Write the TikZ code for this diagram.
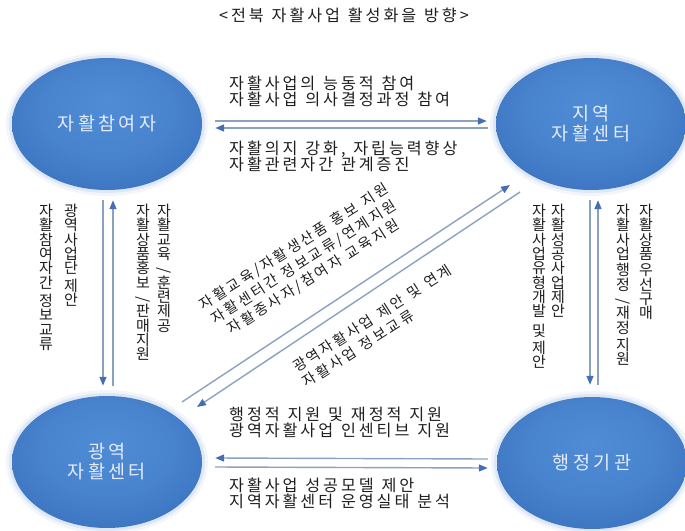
\documentclass[tikz,border=0pt]{standalone}
\usepackage{fontspec}
\setmainfont[LetterSpace=18,WordSpace=1.2]{Noto Sans CJK KR}
\usetikzlibrary{shapes.geometric,arrows.meta,calc}
\definecolor{bIn}{RGB}{80,140,214}
\definecolor{bOut}{RGB}{40,92,170}
\definecolor{lineC}{RGB}{140,160,194}
\definecolor{headC}{RGB}{70,110,180}
\definecolor{txtC}{RGB}{30,30,30}
\definecolor{halo}{RGB}{150,180,225}
\definecolor{ballTxt}{RGB}{228,236,248}
\pgfdeclareradialshading{ballshade}{\pgfpoint{0bp}{8bp}}{color(0bp)=(bIn); color(18bp)=(bIn!80!bOut); color(50bp)=(bOut)}
\lineskiplimit=-50pt
\lineskip=0pt
\tikzset{
  ball/.style={ellipse, minimum width=190pt, minimum height=132pt, inner sep=0pt,
    shade, shading=ballshade, text=ballTxt, align=center,
    font=\fontsize{18.5}{20}\selectfont},
  lbl/.style={inner sep=0pt, align=left, text=txtC, font=\fontsize{16.2}{16.5}\selectfont},
  dlbl/.style={inner sep=0pt, text=txtC, rotate=32.5, font=\fontsize{14.4}{18}\selectfont},
  vtx/.style={inner sep=0pt, align=center, anchor=north, text=txtC,
    font=\fontsize{15}{14.3}\selectfont},
  arr/.style={draw=lineC, line width=1.4pt, -{Triangle[length=9pt,width=7pt,color=headC]}},
  glow/.style={fill=halo, opacity=#1}
}
\newcommand{\vsl}{\rotatebox{90}{/}}
\begin{document}
\begin{tikzpicture}[x=1pt,y=-1pt]
\useasboundingbox (0,0) rectangle (685,530);
% halos
\foreach \cx/\cy in {107/124, 591/124, 107/462, 592/463}{
  \fill[glow=0.12] (\cx,\cy) ellipse [x radius=101, y radius=72];
  \fill[glow=0.22] (\cx,\cy) ellipse [x radius=98, y radius=69];
}
% ellipses
\node[ball] (p) at (107,124) {자활참여자};
\node[ball] (l) at (591,124) {지역\\자활센터};
\node[ball] (g) at (107,462) {광역\\자활센터};
\node[ball] (h) at (592,463) {행정기관};
% title
\node[lbl] (title) at (344,15) {<전북 자활사업 활성화을 방향>};
% horizontal arrows
\draw[arr] ([shift={(13,-3)}]p.east) -- ([shift={(-9,-3)}]l.west);
\draw[arr] ([shift={(-8,4)}]l.west) -- ([shift={(13,4)}]p.east);
\draw[arr] ([shift={(-9,-4)}]h.west) -- ([shift={(13,-4)}]g.east);
\draw[arr] ([shift={(13,5)}]g.east) -- ([shift={(-9,5)}]h.west);
% vertical arrows
\draw[arr] ([shift={(-4,10)}]p.south) -- ([shift={(-4,-10)}]g.north);
\draw[arr] ([shift={(6,-10)}]g.north) -- ([shift={(6,10)}]p.south);
\draw[arr] ([shift={(-1,10)}]l.south) -- ([shift={(-2,-12)}]h.north);
\draw[arr] ([shift={(6,-12)}]h.north) -- ([shift={(7,10)}]l.south);
% diagonal arrows
\coordinate (a1) at ($(g.center)+(75,-60)$);
\coordinate (a2) at ($(l.center)+(-81,61)$);
\coordinate (b1) at ($(l.center)+(-71,68)$);
\coordinate (b2) at ($(g.center)+(90,-55)$);
\draw[arr] (a1) -- (a2);
\draw[arr] (b1) -- (b2);
% horizontal labels
\node[lbl, anchor=west] (t1) at (229,91.5) {자활사업의 능동적 참여\\자활사업 의사결정과정 참여};
\node[lbl, anchor=west] (t2) at (229,156.5) {자활의지 강화, 자립능력향상\\자활관련자간 관계증진};
\node[lbl, anchor=west] (t3) at (229,422.5) {행정적 지원 및 재정적 지원\\광역자활사업 인센티브 지원};
\node[lbl, anchor=west] (t4) at (229,493.5) {자활사업 성공모델 제안\\지역자활센터 운영실태 분석};
% vertical labels
\node[vtx] (v1) at (46,204) {자\\활\\참\\여\\자\\간\\[4pt]정\\보\\교\\류};
\node[vtx] (v2) at (71,204) {광\\역\\사\\업\\단\\[3pt]제\\안};
\node[vtx] (v3) at (143,204) {자\\활\\상\\품\\홍\\보\\\vsl\\판\\매\\지\\원};
\node[vtx] (v4) at (164,204) {자\\활\\교\\육\\\vsl\\훈\\련\\제\\공};
\node[vtx] (v5) at (539,204) {자\\활\\사\\업\\유\\형\\개\\발\\[5pt]및\\[3pt]제\\안};
\node[vtx] (v6) at (558,204) {자\\활\\성\\공\\사\\업\\제\\안};
\node[vtx] (v7) at (623,204) {자\\활\\사\\업\\[2pt]행\\정\\\vsl\\재\\정\\[3pt]지\\원};
\node[vtx] (v8) at (646,204) {자\\활\\상\\품\\[2pt]우\\선\\구\\매};
% diagonal labels
\node[dlbl, align=center] (d1) at (304,262) {자활교육/자활생산품 홍보 지원\\자활센터간 정보교류/연계지원\\자활종사자/참여자 교육지원};
\node[dlbl, align=left] (d2) at (377,326) {광역자활사업 제안 및 연계\\자활사업 정보교류};
\end{tikzpicture}
\end{document}
